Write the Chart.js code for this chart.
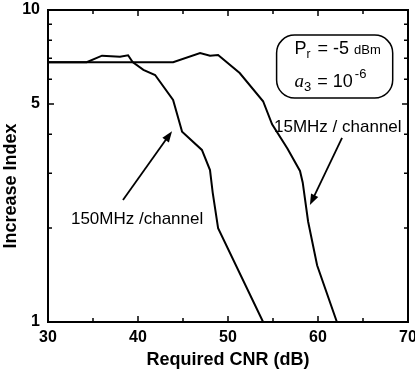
<!DOCTYPE html>
<html>
<head>
<meta charset="utf-8">
<script src="https://cdn.jsdelivr.net/npm/chart.js@4/dist/chart.umd.min.js"></script>
<style>
  html, body { margin: 0; padding: 0; background: #fff; }
  #wrap { width: 415px; height: 372px; }
</style>
</head>
<body>
<div id="wrap"><canvas id="chart" width="415" height="372"></canvas></div>
<script>
// values
const cnr150 = [30, 34.3, 36.0, 38.0, 38.9, 39.4, 40.6, 41.9, 43.9, 44.9, 47.1, 48.0, 48.3, 48.9, 53.9];
const index150 = [6.8, 6.8, 7.14, 7.08, 7.16, 6.81, 6.43, 6.19, 5.15, 4.07, 3.56, 3.07, 2.6, 2.0, 1.0];
const cnr15 = [30, 43.9, 46.9, 48.0, 48.9, 51.3, 53.9, 54.9, 56.6, 58.0, 58.3, 58.9, 59.9, 62.1];
const index15 = [6.8, 6.8, 7.28, 7.13, 7.17, 6.28, 5.1, 4.3, 3.6, 3.05, 2.8, 2.1, 1.52, 1.0];
const xTicks = [30, 40, 50, 60, 70];
const yTicks = [1, 5, 10];
const xMinor = [35, 45, 55, 65];
const yMinor = [2, 3, 4, 6, 7, 8, 9];

const toPoints = (xs, ys) => xs.map((x, i) => ({ x, y: ys[i] }));
const FONT = "'Liberation Sans', Arial, sans-serif";

// annotation positions, in data units
const notes = [
  { text: '150MHz /channel', x: 39.9, y: 2.14, from: [38.33, 2.46], to: [43.78, 4.09] },
  { text: '15MHz / channel', x: 62.2, y: 4.22, from: [62.67, 3.89], to: [59.1, 2.37] },
];
const box = { x0: 55.4, x1: 68.3, y0: 8.31, y1: 5.22 };

const arrow = (ctx, x1, y1, x2, y2) => {
  const a = Math.atan2(y2 - y1, x2 - x1);
  const len = 11, w = 4;
  ctx.beginPath();
  ctx.moveTo(x1, y1);
  ctx.lineTo(x2 - Math.cos(a) * len * 0.8, y2 - Math.sin(a) * len * 0.8);
  ctx.stroke();
  ctx.beginPath();
  ctx.moveTo(x2, y2);
  ctx.lineTo(x2 - Math.cos(a) * len + Math.sin(a) * w, y2 - Math.sin(a) * len - Math.cos(a) * w);
  ctx.lineTo(x2 - Math.cos(a) * len - Math.sin(a) * w, y2 - Math.sin(a) * len + Math.cos(a) * w);
  ctx.closePath();
  ctx.fill();
};

const frame = {
  id: 'frame',
  afterDraw(chart) {
    const { ctx, chartArea: a, scales } = chart;
    const sx = scales.x, sy = scales.y;
    ctx.save();
    ctx.strokeStyle = '#000';
    ctx.fillStyle = '#000';
    ctx.lineWidth = 2;
    ctx.strokeRect(a.left, a.top, a.right - a.left, a.bottom - a.top);

    // inward ticks on all four sides
    ctx.lineWidth = 1.5;
    ctx.beginPath();
    const tickX = (v, len) => {
      const p = sx.getPixelForValue(v);
      ctx.moveTo(p, a.bottom); ctx.lineTo(p, a.bottom - len);
      ctx.moveTo(p, a.top); ctx.lineTo(p, a.top + len);
    };
    const tickY = (v, len) => {
      const p = sy.getPixelForValue(v);
      ctx.moveTo(a.left, p); ctx.lineTo(a.left + len, p);
      ctx.moveTo(a.right, p); ctx.lineTo(a.right - len, p);
    };
    xTicks.forEach((v) => tickX(v, 6));
    xMinor.forEach((v) => tickX(v, 4));
    yTicks.forEach((v) => tickY(v, 6));
    yMinor.forEach((v) => tickY(v, 4));
    ctx.stroke();

    // y-axis title, sits a little below the axis centre in the original
    ctx.save();
    ctx.translate(11, 186);
    ctx.rotate(-Math.PI / 2);
    ctx.font = `bold 18px ${FONT}`;
    ctx.textAlign = 'center';
    ctx.textBaseline = 'middle';
    ctx.fillText('Increase Index', 0, 0);
    ctx.restore();

    // labels and arrows
    ctx.lineWidth = 1.8;
    ctx.font = `17px ${FONT}`;
    ctx.textAlign = 'center';
    ctx.textBaseline = 'middle';
    notes.forEach((n) => {
      ctx.fillText(n.text, sx.getPixelForValue(n.x), sy.getPixelForValue(n.y));
      arrow(ctx,
        sx.getPixelForValue(n.from[0]), sy.getPixelForValue(n.from[1]),
        sx.getPixelForValue(n.to[0]), sy.getPixelForValue(n.to[1]));
    });

    // parameter box
    const bx0 = sx.getPixelForValue(box.x0), bx1 = sx.getPixelForValue(box.x1);
    const by0 = sy.getPixelForValue(box.y0), by1 = sy.getPixelForValue(box.y1);
    ctx.lineWidth = 1.5;
    ctx.beginPath();
    ctx.roundRect(bx0, by0, bx1 - bx0, by1 - by0, 18);
    ctx.stroke();

    ctx.textAlign = 'left';
    ctx.textBaseline = 'alphabetic';
    let tx = bx0 + 18;
    let ty = by0 + 19;
    ctx.font = `18px ${FONT}`;
    ctx.fillText('P', tx, ty); tx += ctx.measureText('P').width;
    ctx.font = `12px ${FONT}`;
    ctx.fillText('r', tx, ty + 4); tx += ctx.measureText('r').width + 2;
    ctx.font = `18px ${FONT}`;
    ctx.fillText(' = -5 ', tx, ty); tx += ctx.measureText(' = -5 ').width;
    ctx.font = `13px ${FONT}`;
    ctx.fillText('dBm', tx, ty);

    tx = bx0 + 18;
    ty = by0 + 52;
    ctx.font = `italic 19px 'Liberation Serif', serif`;
    ctx.fillText('a', tx, ty); tx += ctx.measureText('a').width;
    ctx.font = `13px ${FONT}`;
    ctx.fillText('3', tx, ty + 4); tx += ctx.measureText('3').width + 1;
    ctx.font = `18px ${FONT}`;
    ctx.fillText(' = 10', tx, ty); tx += ctx.measureText(' = 10').width + 2;
    ctx.font = `13px ${FONT}`;
    ctx.fillText('-6', tx, ty - 9);
    ctx.restore();
  },
};

const line = (data) => ({
  data,
  borderColor: '#000',
  borderWidth: 2,
  pointRadius: 0,
  tension: 0,
  fill: false,
});

new Chart(document.getElementById('chart'), {
  type: 'line',
  data: {
    datasets: [
      line(toPoints(cnr150, index150)),
      line(toPoints(cnr15, index15)),
    ],
  },
  options: {
    responsive: false,
    animation: false,
    layout: { padding: { top: 10, right: 7, left: 0, bottom: 0 } },
    plugins: { legend: { display: false }, tooltip: { enabled: false } },
    scales: {
      x: {
        type: 'linear',
        min: 30,
        max: 70,
        afterFit: (s) => { s.height = 50; s.paddingLeft = 0; s.paddingRight = 0; },
        afterBuildTicks: (s) => { s.ticks = xTicks.map((v) => ({ value: v })); },
        grid: { display: false, drawTicks: false },
        border: { display: false },
        ticks: { color: '#000', padding: 6, maxRotation: 0, font: { family: FONT, size: 16, weight: 'bold' } },
        title: {
          display: true,
          text: 'Required CNR (dB)',
          color: '#000',
          padding: { top: 0, bottom: 1 },
          font: { family: FONT, size: 18, weight: 'bold' },
        },
      },
      y: {
        type: 'logarithmic',
        min: 1,
        max: 10,
        afterFit: (s) => { s.width = 48; s.paddingTop = 0; s.paddingBottom = 0; },
        afterBuildTicks: (s) => { s.ticks = yTicks.map((v) => ({ value: v })); },
        grid: { display: false, drawTicks: false },
        border: { display: false },
        ticks: {
          color: '#000',
          padding: 8,
          font: { family: FONT, size: 16, weight: 'bold' },
          callback: (v) => String(v),
        },
        title: { display: false },
      },
    },
  },
  plugins: [frame],
});
</script>
</body>
</html>
